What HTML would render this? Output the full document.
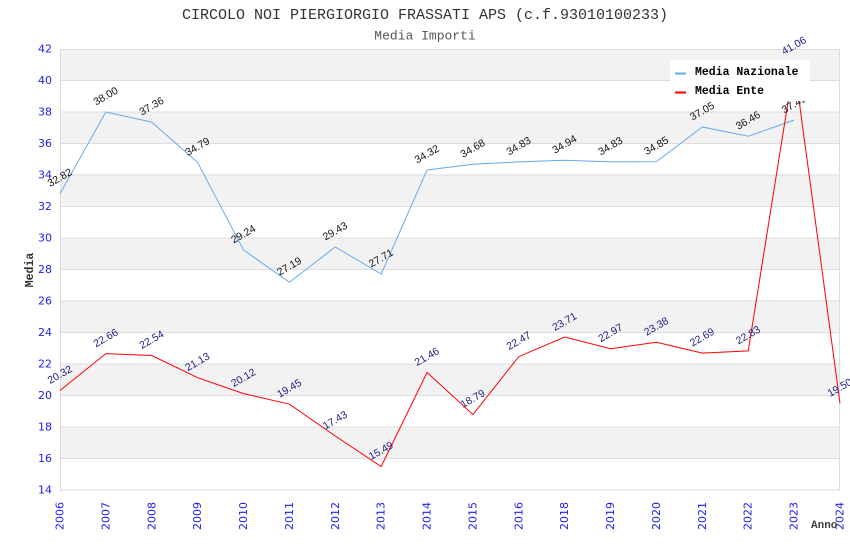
<!DOCTYPE html>
<html><head><meta charset="utf-8"><style>
html,body{margin:0;padding:0;background:#fff;}
svg{display:block;}
</style></head><body>
<svg width="850" height="550" viewBox="0 0 850 550" xmlns="http://www.w3.org/2000/svg">
<rect width="850" height="550" fill="#fff"/>
<!-- bands -->
<g fill="#f2f2f2">
<rect x="60" y="49" width="780" height="31.5"/>
<rect x="60" y="112" width="780" height="31.5"/>
<rect x="60" y="175" width="780" height="31.5"/>
<rect x="60" y="238" width="780" height="31.5"/>
<rect x="60" y="301" width="780" height="31.5"/>
<rect x="60" y="364" width="780" height="31.5"/>
<rect x="60" y="427" width="780" height="31.5"/>
</g>
<g stroke="#dddddd" stroke-width="1">
<line x1="60" y1="80.5" x2="840" y2="80.5"/>
<line x1="60" y1="112" x2="840" y2="112"/>
<line x1="60" y1="143.5" x2="840" y2="143.5"/>
<line x1="60" y1="175" x2="840" y2="175"/>
<line x1="60" y1="206.5" x2="840" y2="206.5"/>
<line x1="60" y1="238" x2="840" y2="238"/>
<line x1="60" y1="269.5" x2="840" y2="269.5"/>
<line x1="60" y1="301" x2="840" y2="301"/>
<line x1="60" y1="332.5" x2="840" y2="332.5"/>
<line x1="60" y1="364" x2="840" y2="364"/>
<line x1="60" y1="395.5" x2="840" y2="395.5"/>
<line x1="60" y1="427" x2="840" y2="427"/>
<line x1="60" y1="458.5" x2="840" y2="458.5"/>
<rect x="60.5" y="49.5" width="779" height="440.5" fill="none"/>
</g>
<!-- y labels -->
<g font-family="DejaVu Sans, sans-serif" font-size="11" fill="#2020ee" text-anchor="end" dominant-baseline="central">
<text x="52" y="49">42</text>
<text x="52" y="80.5">40</text>
<text x="52" y="112">38</text>
<text x="52" y="143.5">36</text>
<text x="52" y="175">34</text>
<text x="52" y="206.5">32</text>
<text x="52" y="238">30</text>
<text x="52" y="269.5">28</text>
<text x="52" y="301">26</text>
<text x="52" y="332.5">24</text>
<text x="52" y="364">22</text>
<text x="52" y="395.5">20</text>
<text x="52" y="427">18</text>
<text x="52" y="458.5">16</text>
<text x="52" y="490">14</text>
</g>
<!-- x labels -->
<g font-family="DejaVu Sans, sans-serif" font-size="11" fill="#2020ee" text-anchor="end" dominant-baseline="central">
<text transform="translate(60,502) rotate(-90)">2006</text>
<text transform="translate(105.88,502) rotate(-90)">2007</text>
<text transform="translate(151.76,502) rotate(-90)">2008</text>
<text transform="translate(197.65,502) rotate(-90)">2009</text>
<text transform="translate(243.53,502) rotate(-90)">2010</text>
<text transform="translate(289.41,502) rotate(-90)">2011</text>
<text transform="translate(335.29,502) rotate(-90)">2012</text>
<text transform="translate(381.18,502) rotate(-90)">2013</text>
<text transform="translate(427.06,502) rotate(-90)">2014</text>
<text transform="translate(472.94,502) rotate(-90)">2015</text>
<text transform="translate(518.82,502) rotate(-90)">2016</text>
<text transform="translate(564.71,502) rotate(-90)">2018</text>
<text transform="translate(610.59,502) rotate(-90)">2019</text>
<text transform="translate(656.47,502) rotate(-90)">2020</text>
<text transform="translate(702.35,502) rotate(-90)">2021</text>
<text transform="translate(748.24,502) rotate(-90)">2022</text>
<text transform="translate(794.12,502) rotate(-90)">2023</text>
<text transform="translate(840,502) rotate(-90)">2024</text>
</g>
<!-- series -->
<polyline fill="none" stroke="#66aaf0" stroke-width="1" points="60,193.59 105.88,112 151.76,122.08 197.65,162.56 243.53,249.97 289.41,282.26 335.29,246.98 381.18,274.07 427.06,169.96 472.94,164.29 518.82,161.93 564.71,160.19 610.59,161.93 656.47,161.61 702.35,126.96 748.24,136.25 794.12,120.03"/>
<polyline fill="none" stroke="#ff0000" stroke-width="1" points="60,390.46 105.88,353.6 151.76,355.5 197.65,377.7 243.53,393.61 289.41,404.16 335.29,435.98 381.18,466.53 427.06,372.5 472.94,414.56 518.82,356.6 564.71,337.07 610.59,348.72 656.47,342.26 702.35,353.13 748.24,350.93 794.12,63.8 840,403.37"/>
<!-- labels Nazionale -->
<g font-family="Liberation Sans, Arial, sans-serif" font-size="10.5" fill="#111" text-anchor="middle" dominant-baseline="central">
<text transform="translate(60,178) rotate(-30)">32.82</text>
<text transform="translate(105.88,96.5) rotate(-30)">38.00</text>
<text transform="translate(151.76,106.5) rotate(-30)">37.36</text>
<text transform="translate(197.65,147) rotate(-30)">34.79</text>
<text transform="translate(243.53,234.5) rotate(-30)">29.24</text>
<text transform="translate(289.41,266.7) rotate(-30)">27.19</text>
<text transform="translate(335.29,231.5) rotate(-30)">29.43</text>
<text transform="translate(381.18,258.5) rotate(-30)">27.71</text>
<text transform="translate(427.06,154.5) rotate(-30)">34.32</text>
<text transform="translate(472.94,148.8) rotate(-30)">34.68</text>
<text transform="translate(518.82,146.4) rotate(-30)">34.83</text>
<text transform="translate(564.71,144.7) rotate(-30)">34.94</text>
<text transform="translate(610.59,146.4) rotate(-30)">34.83</text>
<text transform="translate(656.47,146.1) rotate(-30)">34.85</text>
<text transform="translate(702.35,111.5) rotate(-30)">37.05</text>
<text transform="translate(748.24,120.7) rotate(-30)">36.46</text>
<text transform="translate(794.12,104.5) rotate(-30)">37.49</text>
</g>
<!-- labels Ente -->
<g font-family="Liberation Sans, Arial, sans-serif" font-size="10.5" fill="#1c1c82" text-anchor="middle" dominant-baseline="central">
<text transform="translate(60,375) rotate(-30)">20.32</text>
<text transform="translate(105.88,338.3) rotate(-30)">22.66</text>
<text transform="translate(151.76,340) rotate(-30)">22.54</text>
<text transform="translate(197.65,362.2) rotate(-30)">21.13</text>
<text transform="translate(243.53,378.1) rotate(-30)">20.12</text>
<text transform="translate(289.41,388.7) rotate(-30)">19.45</text>
<text transform="translate(335.29,420.5) rotate(-30)">17.43</text>
<text transform="translate(381.18,451) rotate(-30)">15.49</text>
<text transform="translate(427.06,357) rotate(-30)">21.46</text>
<text transform="translate(472.94,399) rotate(-30)">18.79</text>
<text transform="translate(518.82,341.1) rotate(-30)">22.47</text>
<text transform="translate(564.71,322) rotate(-30)">23.71</text>
<text transform="translate(610.59,333.2) rotate(-30)">22.97</text>
<text transform="translate(656.47,326.8) rotate(-30)">23.38</text>
<text transform="translate(702.35,337.6) rotate(-30)">22.69</text>
<text transform="translate(748.24,335.4) rotate(-30)">22.83</text>
<text transform="translate(794.12,46) rotate(-30)">41.06</text>
<text transform="translate(840,387.9) rotate(-30)">19.50</text>
</g>
<!-- legend -->
<rect x="670" y="60" width="140" height="41" fill="#fff"/>
<line x1="675" y1="73.5" x2="686" y2="73.5" stroke="#66aaf0" stroke-width="2"/>
<line x1="675" y1="92.5" x2="686" y2="92.5" stroke="#ff0000" stroke-width="2"/>
<g font-family="Liberation Mono, monospace" font-size="11.5" font-weight="bold" fill="#000">
<text x="695" y="75">Media Nazionale</text>
<text x="695" y="94">Media Ente</text>
</g>
<!-- titles -->
<text x="425" y="19" font-family="Liberation Mono, monospace" font-size="15" fill="#333" text-anchor="middle">CIRCOLO NOI PIERGIORGIO FRASSATI APS (c.f.93010100233)</text>
<text x="425" y="39.5" font-family="Liberation Mono, monospace" font-size="13" fill="#555" text-anchor="middle">Media Importi</text>
<text transform="translate(33,270) rotate(-90)" font-family="Liberation Mono, monospace" font-size="11.5" font-weight="bold" fill="#333" text-anchor="middle">Media</text>
<text x="811" y="528" font-family="Liberation Mono, monospace" font-size="11" font-weight="bold" fill="#444">Anno</text>
</svg>
</body></html>
